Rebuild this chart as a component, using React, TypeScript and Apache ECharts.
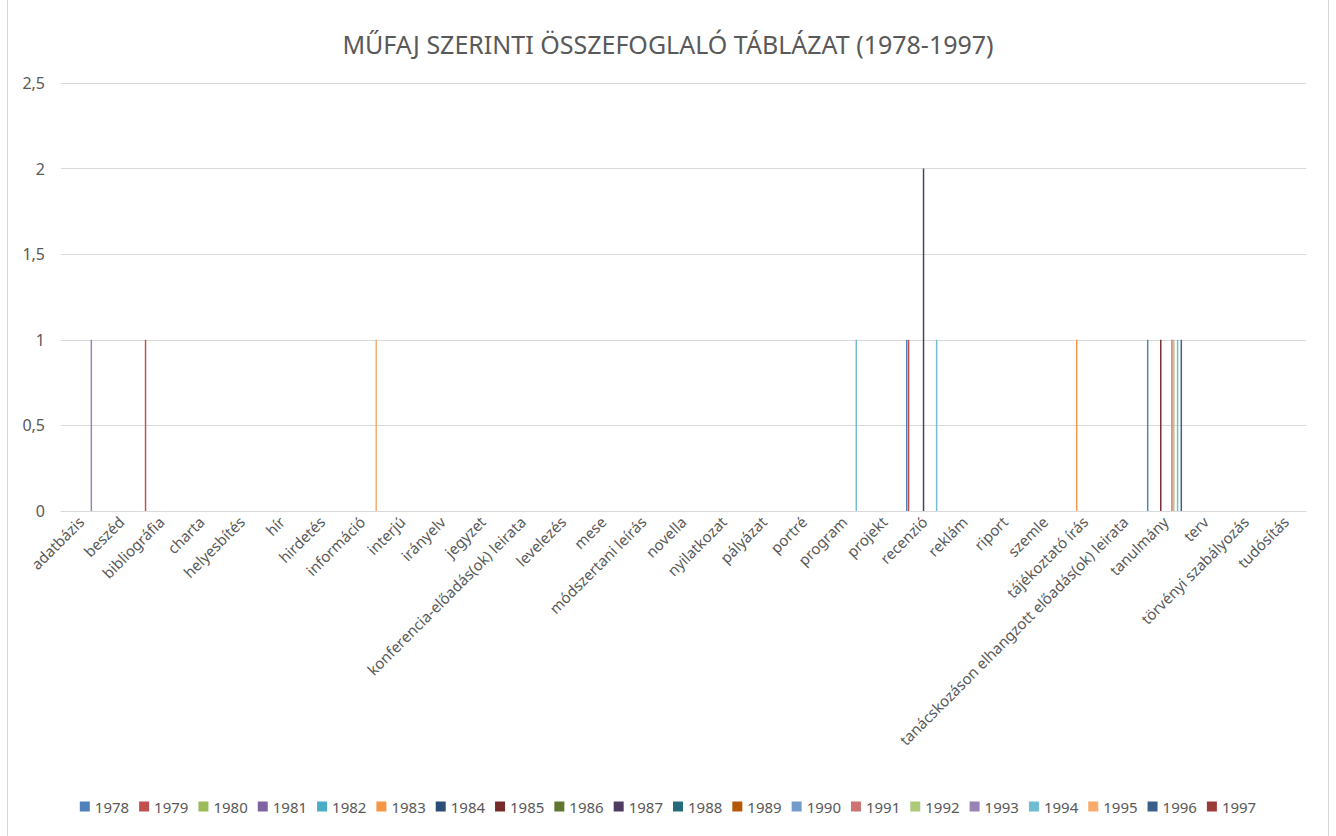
import React, { useEffect, useRef } from "react";
import * as echarts from "echarts";

const categories = [
  "adatbázis", "beszéd", "bibliográfia", "charta", "helyesbítés", "hír", "hirdetés",
  "információ", "interjú", "irányelv", "jegyzet", "konferencia-előadás(ok) leirata",
  "levelezés", "mese", "módszertani leírás", "novella", "nyilatkozat", "pályázat",
  "portré", "program", "projekt", "recenzió", "reklám", "riport", "szemle",
  "tájékoztató írás", "tanácskozáson elhangzott előadás(ok) leirata", "tanulmány",
  "terv", "törvényi szabályozás", "tudósítás",
];

const years = [
  "1978", "1979", "1980", "1981", "1982", "1983", "1984", "1985", "1986", "1987",
  "1988", "1989", "1990", "1991", "1992", "1993", "1994", "1995", "1996", "1997",
];

const seriesColors = [
  "#4F81BD", "#C0504D", "#9BBB59", "#8064A2", "#4BACC6", "#F79646", "#2C4D75",
  "#772C2A", "#5F7530", "#4D3B62", "#276A7C", "#B65708", "#729ACA", "#CD7371",
  "#AFC97A", "#9983B5", "#6FBDD1", "#F9AB6B", "#3A5F8B", "#9B3B38",
];

// [category, year, value]
const entries: [string, string, number][] = [
  ["adatbázis", "1993", 1],
  ["bibliográfia", "1979", 1],
  ["információ", "1995", 1],
  ["program", "1994", 1],
  ["recenzió", "1978", 1],
  ["recenzió", "1979", 1],
  ["recenzió", "1987", 2],
  ["recenzió", "1994", 1],
  ["tájékoztató írás", "1983", 1],
  ["tanulmány", "1978", 1],
  ["tanulmány", "1985", 1],
  ["tanulmány", "1991", 1],
  ["tanulmány", "1992", 1],
  ["tanulmány", "1994", 1],
  ["tanulmány", "1996", 1],
];

const yTicks = { min: 0, max: 2.5, interval: 0.5 };

const FONT = "'Noto Sans', sans-serif";
const TEXT = "#595959";
const GRID = "#d9d9d9";

export default function App() {
  const ref = useRef<HTMLDivElement>(null);
  useEffect(() => {
    document.body.style.margin = "0";
    const chart = echarts.init(ref.current!, undefined, { renderer: "svg" });
    const series = years.map((y, i) => ({
      name: y,
      type: "bar" as const,
      data: categories.map((c) => {
        const e = entries.find((en) => en[0] === c && en[1] === y);
        return e ? e[2] : 0;
      }),
      itemStyle: { color: seriesColors[i] },
      barGap: "27%",
      barCategoryGap: "8%",
    }));
    chart.setOption({
      animation: false,
      color: seriesColors,
      textStyle: { fontFamily: FONT },
      title: {
        text: "MŰFAJ SZERINTI ÖSSZEFOGLALÓ TÁBLÁZAT (1978-1997)",
        left: "center",
        top: 26,
        textStyle: { fontFamily: FONT, fontSize: 25, fontWeight: "normal", color: TEXT },
      },
      grid: { left: 61, right: 30, top: 83, bottom: 325, containLabel: false },
      legend: {
        bottom: 17,
        left: "center",
        icon: "rect",
        itemWidth: 10,
        itemHeight: 10,
        itemGap: 10,
        textStyle: { fontFamily: FONT, fontSize: 15, color: TEXT },
        data: years,
      },
      xAxis: {
        type: "category",
        data: categories,
        axisLine: { lineStyle: { color: GRID } },
        axisTick: { show: false },
        axisLabel: {
          interval: 0,
          rotate: 45,
          margin: 8,
          fontFamily: FONT,
          fontSize: 15,
          color: TEXT,
        },
      },
      yAxis: {
        type: "value",
        min: yTicks.min,
        max: yTicks.max,
        interval: yTicks.interval,
        axisLine: { show: false },
        axisTick: { show: false },
        splitLine: { lineStyle: { color: GRID } },
        axisLabel: {
          margin: 16,
          fontFamily: FONT,
          fontSize: 16,
          color: TEXT,
          formatter: (v: number) => String(v).replace(".", ","),
        },
      },
      graphic: [
        { type: "line", shape: { x1: 7.5, y1: 0, x2: 7.5, y2: 836 }, style: { stroke: GRID, lineWidth: 1 } },
        { type: "line", shape: { x1: 1328.5, y1: 0, x2: 1328.5, y2: 836 }, style: { stroke: GRID, lineWidth: 1 } },
      ],
      series,
    });
    return () => chart.dispose();
  }, []);
  return <div ref={ref} style={{ width: 1336, height: 836 }} />;
}
